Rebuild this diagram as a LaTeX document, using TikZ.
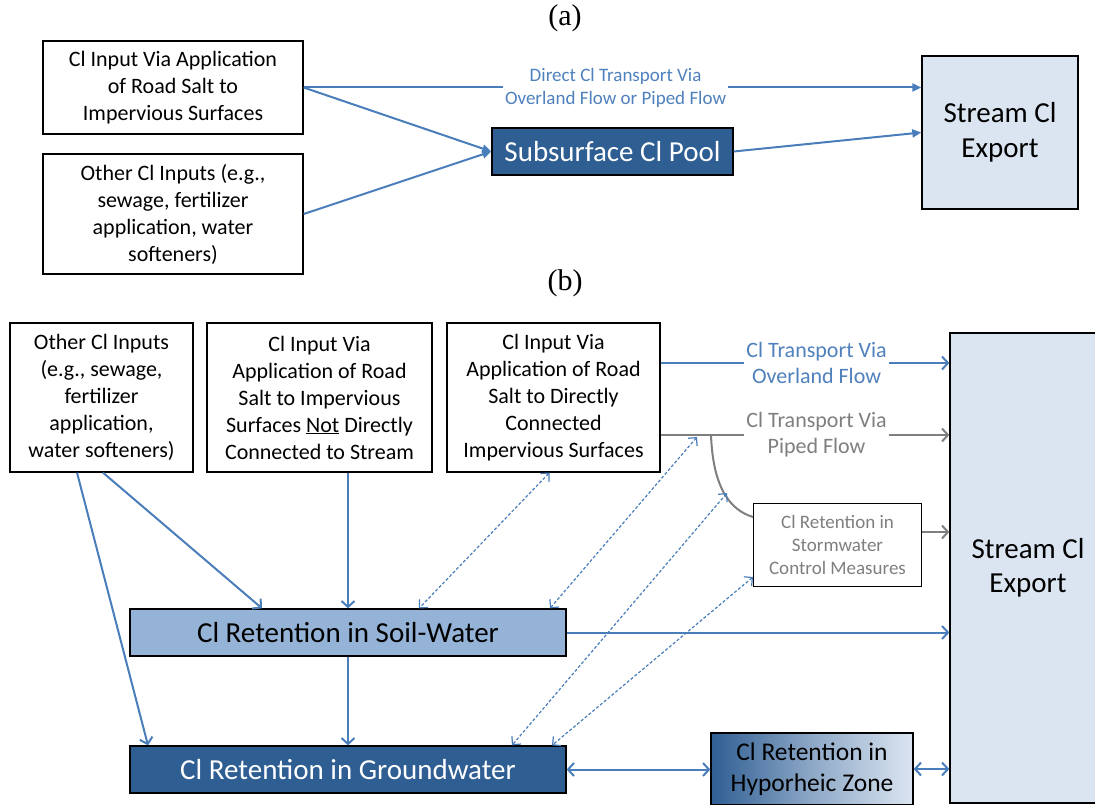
\documentclass[tikz,border=0pt]{standalone}
\usepackage{fontspec}
\setmainfont{Carlito}
\newfontfamily\tnr{Liberation Serif}
\usetikzlibrary{arrows.meta}
\definecolor{lineblue}{HTML}{4A7EBB}
\definecolor{textblue}{HTML}{4F81BD}
\definecolor{darkblue}{HTML}{2F5E93}
\definecolor{midblue}{HTML}{95B3D7}
\definecolor{lightblue}{HTML}{DBE5F1}
\definecolor{grayline}{HTML}{7F7F7F}
\begin{document}
\begin{tikzpicture}[x=1pt,y=-1pt,
  box/.style={draw=black, line width=1.3pt, fill=white, inner sep=0pt, align=center, font=\fontsize{22}{27}\selectfont},
  arrA/.style={draw=lineblue, line width=2pt, -{Triangle[length=9pt,width=8pt]}},
  arrB/.style={draw=lineblue, line width=2pt, -{Straight Barb[length=6pt,width=13pt]}},
  arrBB/.style={draw=lineblue, line width=2pt, {Straight Barb[length=6pt,width=13pt]}-{Straight Barb[length=6pt,width=13pt]}},
  arrG/.style={draw=grayline, line width=2pt, -{Straight Barb[length=6pt,width=13pt]}},
  dash2/.style={draw=lineblue, line width=1.2pt, dash pattern=on 3pt off 2pt, {Straight Barb[length=6pt,width=12pt]}-{Straight Barb[length=6pt,width=12pt]}},
  lbl/.style={fill=white, inner sep=2pt, align=center},
  partlbl/.style={font=\tnr\fontsize{30}{34}\selectfont}
]
\useasboundingbox (0,0) rectangle (1095,805);
\begin{scope}
\clip (0,0) rectangle (1095,805);

% ---------- (a) ----------
\node[partlbl] (la) at (565,18) {(a)};
\node[box, minimum width=260pt, minimum height=93pt] (a1) at (173,87.5)
  {Cl Input Via Application\\of Road Salt to\\Impervious Surfaces};
\node[box, minimum width=260pt, minimum height=120pt] (a2) at (173,214)
  {Other Cl Inputs (e.g.,\\sewage, fertilizer\\application, water\\softeners)};
\node[box, fill=darkblue, text=white, minimum width=241pt, minimum height=47pt, font=\fontsize{29}{34}\selectfont] (pool) at (612.5,151.5) {Subsurface Cl Pool};
\node[box, fill=lightblue, minimum width=156pt, minimum height=153pt, font=\fontsize{29}{35}\selectfont] (sa) at (1000,132.5) {Stream Cl\\Export};

\draw[arrA] (a1.east) -- node[lbl, text=textblue, font=\fontsize{19}{23}\selectfont, pos=0.505]{Direct Cl Transport Via\\Overland Flow or Piped Flow} (a1.east -| sa.west);
\draw[arrA] (a1.east) -- (pool.west);
\draw[arrA] (a2.east) -- (pool.west);
\draw[arrA] (pool.east) -- (sa.west);

% ---------- (b) ----------
\node[partlbl] (lb) at (565,283) {(b)};
\node[box, minimum width=183pt, minimum height=149pt] (b1) at (101.5,397.5)
  {Other Cl Inputs\\(e.g., sewage,\\fertilizer\\application,\\water softeners)};
\node[box, minimum width=225pt, minimum height=149pt] (b2) at (319.5,397.5)
  {Cl Input Via\\Application of Road\\Salt to Impervious\\Surfaces \underline{Not} Directly\\Connected to Stream};
\node[box, minimum width=213pt, minimum height=149pt] (b3) at (553.5,397.5)
  {Cl Input Via\\Application of Road\\Salt to Directly\\Connected\\Impervious Surfaces};
\node[box, fill=lightblue, minimum width=156pt, minimum height=470pt, font=\fontsize{29}{34}\selectfont] (sb) at (1028,568) {Stream Cl\\Export};
\node[box, line width=1pt, text=grayline, minimum width=168pt, minimum height=83pt, font=\fontsize{19}{23}\selectfont] (sw) at (837.5,545)
  {Cl Retention in\\Stormwater\\Control Measures};
\node[box, fill=midblue, minimum width=436pt, minimum height=47pt, font=\fontsize{29}{34}\selectfont] (soil) at (348,632.5) {Cl Retention in Soil-Water};
\node[box, fill=darkblue, text=white, minimum width=436pt, minimum height=47pt, font=\fontsize{29}{34}\selectfont] (gw) at (348,769.5) {Cl Retention in Groundwater};
\node[box, left color=darkblue, right color=lightblue, middle color=lightblue!55!darkblue, minimum width=202pt, minimum height=72pt, font=\fontsize{25.5}{31}\selectfont] (hz) at (812,769) {Cl Retention in\\Hyporheic Zone};

% top transports
\draw[arrB] ([yshift=34.5pt]b3.east) coordinate (o1) -- node[lbl, text=textblue, font=\fontsize{22}{26}\selectfont, pos=0.54]{Cl Transport Via\\Overland Flow} (o1 -| sb.west);
\draw[arrG] ([yshift=-37.5pt]b3.east) coordinate (p1) -- node[lbl, text=grayline, font=\fontsize{22}{26}\selectfont, pos=0.54]{Cl Transport Via\\Piped Flow} (p1 -| sb.west);
\coordinate (pj) at (711,435);
\draw[draw=grayline, line width=2pt] (pj) .. controls (713,488) and (730,510) .. ([yshift=-14pt]sw.north west);
\draw[arrG] ([yshift=13pt]sw.east) -- ([yshift=13pt]sw.east -| sb.west);

% solid flows
\draw[arrB] ([xshift=-24.5pt]b1.south) -- ([xshift=-200pt]gw.north);
\draw[arrB] ([xshift=1.5pt]b1.south) -- ([xshift=-86pt]soil.north);
\draw[arrB] (b2.south -| soil.north) -- (soil.north);
\draw[arrB] (soil.south) -- (gw.north);
\draw[arrB] (soil.east) -- (soil.east -| sb.west);
\draw[arrBB] (gw.east) -- (gw.east -| hz.west);
\draw[arrBB] (hz.east) -- (hz.east -| sb.west);

% dashed exchanges
\coordinate (d2) at (697,437);
\coordinate (d3) at (727,493);
\draw[dash2] ([xshift=-4pt]b3.south) -- ([xshift=71pt]soil.north);
\draw[dash2] (d2) -- ([xshift=202pt]soil.north);
\draw[dash2] (d3) -- ([xshift=164pt]gw.north);
\draw[dash2] ([yshift=10pt]sw.south west) -- ([xshift=204pt]gw.north);
\end{scope}
\end{tikzpicture}
\end{document}
